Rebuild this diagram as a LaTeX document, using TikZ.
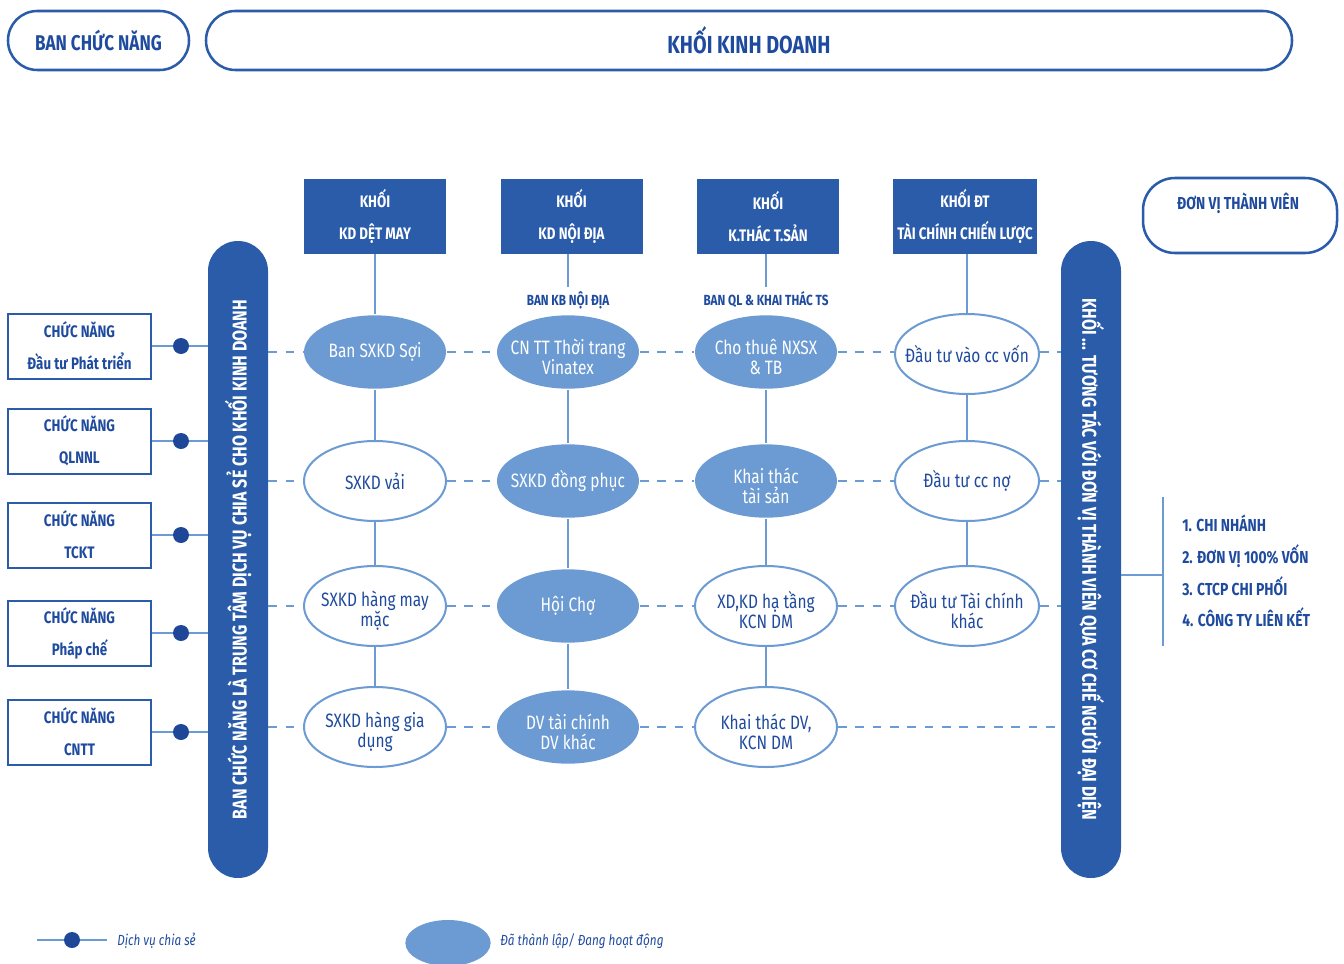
\documentclass[tikz,border=0pt]{standalone}
\usepackage{fontspec}
\setmainfont{Fira Sans}[FakeStretch=0.8]
\usetikzlibrary{positioning,shapes.geometric}

\definecolor{navy}{HTML}{2A5CAA}
\definecolor{inkblue}{HTML}{1F4B9E}
\definecolor{softblue}{HTML}{6B9BD2}
\definecolor{dotblue}{HTML}{1E4797}

\tikzset{
  pill/.style={draw=navy, line width=1.9pt, rounded corners=22pt, text=inkblue,
    font=\bfseries\fontsize{17}{20}\selectfont},
  khoi/.style={fill=navy, text=white, align=center, minimum width=106.5pt,
    minimum height=56.25pt, text height=38pt, font=\bfseries\fontsize{12.5}{24}\selectfont},
  bar/.style={fill=navy, rounded corners=22.5pt, minimum width=45pt, minimum height=477.75pt},
  bartext/.style={text=white, font=\bfseries\fontsize{15}{17}\selectfont},
  chucnang/.style={draw=navy, line width=1.5pt, align=center, text=inkblue,
    minimum width=107.25pt, minimum height=48.75pt, font=\bfseries\fontsize{12.5}{24}\selectfont},
  unit/.style={ellipse, draw=softblue, line width=1.5pt, fill=white, text=inkblue,
    inner xsep=-20pt, inner ysep=-10pt, align=center, minimum width=106.5pt, minimum height=60pt,
    font=\fontsize{14.5}{15}\selectfont},
  done/.style={unit, draw=none, fill=softblue, text=white, minimum height=55pt},
  twoline/.style={text height=34pt},
  banlabel/.style={text=inkblue, font=\bfseries\fontsize{11}{13}\selectfont},
  listitem/.style={text=inkblue, inner sep=0pt, font=\bfseries\fontsize{13}{15}\selectfont},
  link/.style={softblue, line width=1.5pt},
  cross/.style={softblue, line width=1.5pt, dash pattern=on 6.5pt off 6.5pt},
  dot/.style={circle, fill=dotblue, inner sep=0pt, minimum size=12pt},
  legend/.style={text=inkblue, inner sep=0pt, font=\itshape\fontsize{11}{13}\selectfont},
}

\begin{document}
\begin{tikzpicture}[x=0.75pt, y=-0.75pt]
    \useasboundingbox (0,0) rectangle (1344,963);

    % Header pills
    \node[pill, font=\bfseries\fontsize{16}{19}\selectfont, minimum width=135.75pt, minimum height=44.25pt] (banpill) at (98.5,40.5) {BAN CHỨC NĂNG};
    \node[pill, font=\bfseries\fontsize{18.5}{21}\selectfont, minimum width=814.5pt, minimum height=44.25pt] (kdpill) at (749,40.5) {KHỐI KINH DOANH};
    \node[pill, rounded corners=24pt, minimum width=145.5pt, minimum height=56.25pt] (dvtv) at (1240,215.5) {};
    \node[text=inkblue, font=\bfseries\fontsize{13}{15}\selectfont] (dvtvtext) at (1238,203) {ĐƠN VỊ THÀNH VIÊN};

    % Business blocks
    \node[khoi] (kdm) at (375,216.5) {KHỐI\\KD DỆT MAY};
    \node[khoi] (knd) at (571.5,216.5) {KHỐI\\KD NỘI ĐỊA};
    \node[khoi] (kts) at (768,216.5) {KHỐI\\K.THÁC T.SẢN};
    \node[khoi] (ktc) at (965,216.5) {KHỐI ĐT\\TÀI CHÍNH CHIẾN LƯỢC};
    \node[banlabel] (bkb) at (568,300) {BAN KB NỘI ĐỊA};
    \node[banlabel] (bql) at (766,300) {BAN QL \& KHAI THÁC TS};

    % Side bars
    \node[bar] (lbar) at (238,559.5) {};
    \node[bartext, rotate=90] (lbartext) at (lbar) {BAN CHỨC NĂNG LÀ TRUNG TÂM DỊCH VỤ CHIA SẺ CHO KHỐI KINH DOANH};
    \node[bar] (rbar) at (1091,559.5) {};
    \node[bartext, rotate=-90] (rbartext) at (rbar) {KHỐI ... TƯƠNG TÁC VỚI ĐƠN VỊ THÀNH VIÊN QUA CƠ CHẾ NGƯỜI ĐẠI DIỆN};

    % Units, row by row
    \node[done] (u11) at (375,352) {Ban SXKD Sợi};
    \node[done, twoline] (u12) at (568,352) {CN TT Thời trang\\Vinatex};
    \node[done, twoline] (u13) at (766,352) {Cho thuê NXSX\\\& TB};
    \node[unit, minimum width=108pt] (u14) at (967,354) {Đầu tư vào cc vốn};
    \node[unit] (u21) at (375,481) {SXKD vải};
    \node[done] (u22) at (568,481) {SXKD đồng phục};
    \node[done, twoline] (u23) at (766,481) {Khai thác\\tài sản};
    \node[unit, minimum width=108pt] (u24) at (967,481) {Đầu tư cc nợ};
    \node[unit, twoline] (u31) at (375,606) {SXKD hàng may\\mặc};
    \node[done] (u32) at (568,606) {Hội Chợ};
    \node[unit, twoline] (u33) at (766,606) {XD,KD hạ tầng\\KCN DM};
    \node[unit, twoline, minimum width=108pt] (u34) at (967,606) {Đầu tư Tài chính\\khác};
    \node[unit, twoline] (u41) at (375,727) {SXKD hàng gia\\dụng};
    \node[done, twoline] (u42) at (568,727) {DV tài chính\\DV khác};
    \node[unit, twoline] (u43) at (766,727) {Khai thác DV,\\KCN DM};

    % Column links
    \draw[link] (kdm) -- (u11);
    \draw[link] (u12 |- knd.south) -- (u12 |- bkb.north);
    \draw[link] (u13 |- kts.south) -- (u13 |- bql.north);
    \draw[link] (u14 |- ktc.south) -- (u14);
    \foreach \col in {1,2,3} {
      \draw[link] (u1\col) -- (u2\col) -- (u3\col) -- (u4\col);
    }
    \draw[link] (u14) -- (u24) -- (u34);

    % Dashed rows across
    \foreach \row in {1,2,3} {
      \draw[cross] (lbar.east |- u\row1) -- (u\row1);
      \draw[cross] (u\row1) -- (u\row2);
      \draw[cross] (u\row2) -- (u\row3);
      \draw[cross] (u\row3) -- (u\row3 -| u\row4.west);
      \draw[cross] (u\row3 -| u\row4.east) -- (rbar.west |- u\row3);
    }
    \draw[cross] (lbar.east |- u41) -- (u41);
    \draw[cross] (u41) -- (u42);
    \draw[cross] (u42) -- (u43);
    \draw[cross] (u43) -- (rbar.west |- u43);

    % Support functions with shared-service dots
    \foreach \name/\y/\what in {dtpt/346/Đầu tư Phát triển, qlnnl/441/QLNNL, tckt/535/TCKT, phapche/633/Pháp chế, cntt/732/CNTT} {
      \node[chucnang] (\name) at (79.5,\y) {CHỨC NĂNG\\\what};
      \node[dot] (d\name) at (181,\y) {};
      \draw[link] (\name) -- (d\name) -- (lbar.west |- d\name);
    }

    % Member units list
    \coordinate (brk) at (1163,575);
    \coordinate (brktop) at (1163,497);
    \coordinate (brkbot) at (1163,646);
    \draw[link] (rbar.east |- brk) -- (brk);
    \draw[link] (brktop) -- (brkbot);
    \foreach \i/\y/\what in {1/531/1. CHI NHÁNH, 2/563/2. ĐƠN VỊ 100\% VỐN, 3/595/3. CTCP CHI PHỐI, 4/626/4. CÔNG TY LIÊN KẾT} {
      \node[listitem, anchor=base west] (mem\i) at (1182,\y) {\what};
    }

    % Legend
    \coordinate (lgA) at (37,940);
    \coordinate (lgB) at (107,940);
    \node[dot] (lgdot) at (72,940) {};
    \draw[link] (lgA) -- (lgdot) -- (lgB);
    \node[legend, anchor=west] (lgshare) at (117,941) {Dịch vụ chia sẻ};
    \node[done, minimum width=64pt, minimum height=34.5pt] (lgell) at (448,943) {};
    \node[legend, anchor=west] (lgdone) at (500,941) {Đã thành lập/ Đang hoạt động};
\end{tikzpicture}
\end{document}
